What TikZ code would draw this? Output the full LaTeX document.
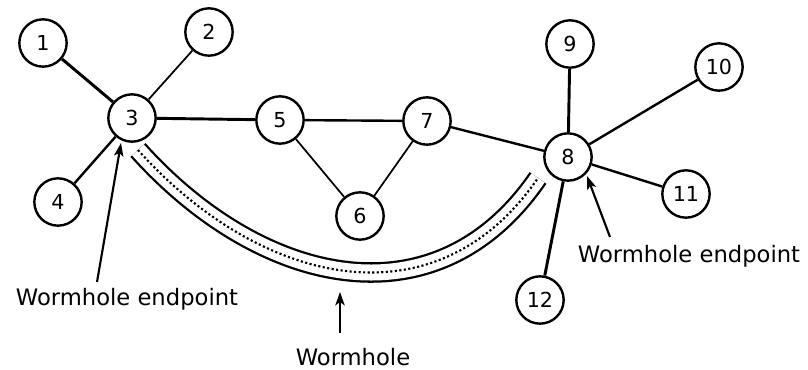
\documentclass[tikz,border=0pt]{standalone}
\usepackage{fontspec}
\setmainfont{DejaVu Sans}
\usetikzlibrary{arrows.meta}
\begin{document}
\begin{tikzpicture}[x=0.75pt,y=-0.75pt,
  vertex/.style={circle,draw,line width=1.8pt,minimum size=35.5pt,inner sep=0pt,
    font=\fontsize{15.5pt}{17pt}\selectfont},
  heavy/.style={line width=2.2pt},
  medium/.style={line width=1.8pt},
  light/.style={line width=1.3pt},
  pointer/.style={line width=1.6pt,-{Stealth[length=10pt,width=7pt,inset=2.5pt]}},
  caption/.style={font=\fontsize{17pt}{19pt}\selectfont,inner sep=0pt}]
\useasboundingbox (0,0) rectangle (808,370);

% graph vertices
\node[vertex] (n1)  at (43,43)   {1};
\node[vertex] (n2)  at (209,32)  {2};
\node[vertex] (n3)  at (132,118) {3};
\node[vertex] (n4)  at (58,202)  {4};
\node[vertex] (n5)  at (280,120) {5};
\node[vertex] (n6)  at (360,216) {6};
\node[vertex] (n7)  at (427,121) {7};
\node[vertex] (n8)  at (568,157) {8};
\node[vertex] (n9)  at (570,44)  {9};
\node[vertex] (n10) at (719,67)  {10};
\node[vertex] (n11) at (686,194) {11};
\node[vertex] (n12) at (540,300) {12};

% edges
\draw[heavy]  (n1) -- (n3);
\draw[light]  (n2) -- (n3);
\draw[medium] (n4) -- (n3);
\draw[heavy]  (n3) -- (n5);
\draw[medium] (n5) -- (n7);
\draw[light]  (n5) -- (n6);
\draw[light]  (n7) -- (n6);
\draw[medium] (n7) -- (n8);
\draw[heavy]  (n8) -- (n9);
\draw[medium] (n8) -- (n10);
\draw[medium] (n8) -- (n11);
\draw[heavy]  (n8) -- (n12);

% wormhole tube between vertices 3 and 8
\coordinate (wl) at (138,150);
\coordinate (wr) at (538,178);
\draw[line width=1.7pt,double distance=12pt] (wl) .. controls (259,285) and (435,328) .. (wr);
\draw[line width=1.6pt,dash pattern=on 1.6pt off 1.8pt] (wl) .. controls (259,285) and (435,328) .. (wr);

% labels with pointers
\node[caption] (lend) at (127,299) {Wormhole endpoint};
\node[caption] (rend) at (689,256) {Wormhole endpoint};
\node[caption] (worm) at (353,357) {Wormhole};
\coordinate (lt) at (97,282);
\coordinate (lh) at (121,143);
\coordinate (rt) at (610,237);
\coordinate (rh) at (587,176);
\coordinate (wt) at (340,333);
\coordinate (wh) at (340,292);
\draw[pointer] (lt) -- (lh);
\draw[pointer] (rt) -- (rh);
\draw[pointer] (wt) -- (wh);
\end{tikzpicture}
\end{document}
